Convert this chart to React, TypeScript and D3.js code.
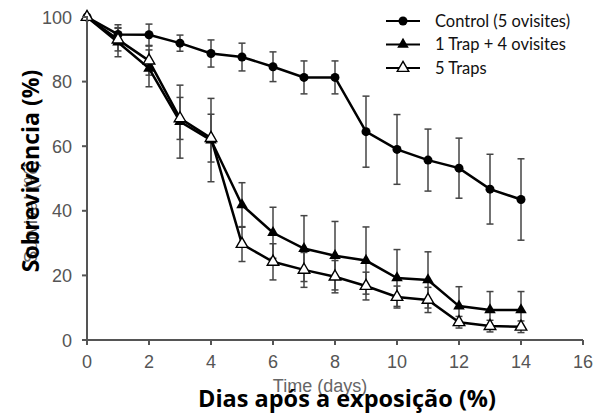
import React from "react";
import * as d3 from "d3";

const days = [0, 1, 2, 3, 4, 5, 6, 7, 8, 9, 10, 11, 12, 13, 14];
const control = [100, 94.6, 94.5, 91.9, 88.7, 87.6, 84.6, 81.3, 81.3, 64.5, 59.0, 55.7, 53.2, 46.7, 43.5];
const controlErr = [0, 3, 3.3, 2.5, 4.2, 4.3, 4.6, 5.1, 5.1, 11, 10.8, 9.6, 9.3, 10.8, 12.6];
const trap1 = [100, 92.2, 84.1, 67.6, 61.9, 41.8, 33.2, 28.3, 26.1, 24.6, 19.2, 18.6, 10.5, 9.3, 9.3];
const trap1Err = [0, 4.5, 5.7, 11.3, 12.9, 6.9, 7.9, 10.2, 10.6, 10.4, 8.8, 8.7, 6, 5.7, 5.7];
const traps5 = [100, 93, 86.5, 68.6, 62.5, 29.7, 24.2, 21.7, 19.6, 16.7, 13.3, 12.4, 5.5, 4.3, 4.1];
const traps5Err = [0, 3.5, 4.5, 6.5, 7.4, 5.4, 5.6, 5.4, 5, 4.3, 3.4, 3.9, 1.8, 1.8, 1.8];

const xTicks = [0, 2, 4, 6, 8, 10, 12, 14, 16];
const yTicks = [0, 20, 40, 60, 80, 100];
const legendLabels = ["Control (5 ovisites)", "1 Trap + 4 ovisites", "5 Traps"];

const W = 609;
const H = 414;

export default function App() {
  const x = d3.scaleLinear().domain([0, 16]).range([87, 583]);
  const y = d3.scaleLinear().domain([0, 100]).range([340, 17]);
  const line = d3
    .line<[number, number]>()
    .x((d) => x(d[0]))
    .y((d) => y(d[1]));
  const tri = d3.symbol(d3.symbolTriangle, 58)() as string;

  const series = [
    { vals: control, err: controlErr, kind: "circle" },
    { vals: trap1, err: trap1Err, kind: "tri" },
    { vals: traps5, err: traps5Err, kind: "open" },
  ];

  const marker = (kind: string, cx: number, cy: number, key: any) => {
    if (kind === "circle")
      return <circle key={key} cx={cx} cy={cy} r={4.5} fill="#000" />;
    if (kind === "tri")
      return <path key={key} d={tri} transform={`translate(${cx},${cy})`} fill="#000" />;
    return (
      <path key={key} d={tri} transform={`translate(${cx},${cy})`} fill="#fff" stroke="#000" strokeWidth={1.4} />
    );
  };

  return (
    <svg width={W} height={H} style={{ position: "absolute", left: 0, top: 0, background: "#fff" }}>
      <rect width={W} height={H} fill="#fff" />
      {/* error bars */}
      {series.map((s, si) =>
        days.map((d, i) =>
          s.err[i] > 0 ? (
            <g key={`e${si}-${i}`} stroke="#444" strokeWidth={1.5}>
              <line x1={x(d)} x2={x(d)} y1={y(s.vals[i] + s.err[i])} y2={y(s.vals[i] - s.err[i])} />
              <line x1={x(d) - 3.5} x2={x(d) + 3.5} y1={y(s.vals[i] + s.err[i])} y2={y(s.vals[i] + s.err[i])} />
              <line x1={x(d) - 3.5} x2={x(d) + 3.5} y1={y(s.vals[i] - s.err[i])} y2={y(s.vals[i] - s.err[i])} />
            </g>
          ) : null
        )
      )}
      {/* lines */}
      {series.map((s, si) => (
        <path
          key={`l${si}`}
          d={line(days.map((d, i) => [d, s.vals[i]] as [number, number])) as string}
          fill="none"
          stroke="#000"
          strokeWidth={2.5}
        />
      ))}
      {/* markers */}
      {series.map((s, si) => days.map((d, i) => marker(s.kind, x(d), y(s.vals[i]), `m${si}-${i}`)))}

      {/* axes */}
      <g stroke="#555" strokeWidth={2}>
        <line x1={x(0)} x2={x(0)} y1={y(100) - 1} y2={y(0)} />
        <line x1={x(0)} x2={x(16)} y1={y(0)} y2={y(0)} />
        {xTicks.map((t) => (
          <line key={`xt${t}`} x1={x(t)} x2={x(t)} y1={y(0)} y2={y(0) + 5} />
        ))}
        {yTicks.map((t) => (
          <line key={`yt${t}`} x1={x(0) - 5} x2={x(0)} y1={y(t)} y2={y(t)} />
        ))}
      </g>
      <g fontFamily="Liberation Sans, Arial, sans-serif" fontSize={18} fill="#555">
        {xTicks.map((t) => (
          <text key={`xl${t}`} x={x(t)} y={368} textAnchor="middle">
            {t}
          </text>
        ))}
        {yTicks.map((t) => (
          <text key={`yl${t}`} x={72} y={y(t) + 6.5} textAnchor="end">
            {t}
          </text>
        ))}
      </g>

      {/* original axis titles (underneath) */}
      <text x={320} y={392} textAnchor="middle" fontFamily="Liberation Sans, Arial, sans-serif" fontSize={18} fill="#666">
        Time (days)
      </text>
      <text
        transform="translate(37,212) rotate(-90)"
        textAnchor="middle"
        fontFamily="Liberation Sans, Arial, sans-serif"
        fontSize={19}
        fill="#666"
      >
        Survival (%)
      </text>

      {/* overlaid titles */}
      <text x={347} y={407} textAnchor="middle" fontFamily="Open Sans, Noto Sans, sans-serif" fontWeight={700} fontSize={23.5} fill="#000">
        Dias após a exposição (%)
      </text>
      <text
        transform="translate(38.5,171) rotate(-90)"
        textAnchor="middle"
        fontFamily="Open Sans, Noto Sans, sans-serif"
        fontWeight={700}
        fontSize={23}
        fill="#000"
      >
        Sobrevivência (%)
      </text>

      {/* legend */}
      {legendLabels.map((lab, i) => {
        const ly = 21 + i * 23.5;
        const kinds = ["circle", "tri", "open"];
        return (
          <g key={`lg${i}`}>
            <line x1={386} x2={420} y1={ly} y2={ly} stroke="#000" strokeWidth={2} />
            {marker(kinds[i], 403, ly, `lm${i}`)}
            <text x={435} y={ly + 5.5} fontFamily="Lato, Open Sans, sans-serif" fontSize={16.5} fill="#111">
              {lab}
            </text>
          </g>
        );
      })}
    </svg>
  );
}
